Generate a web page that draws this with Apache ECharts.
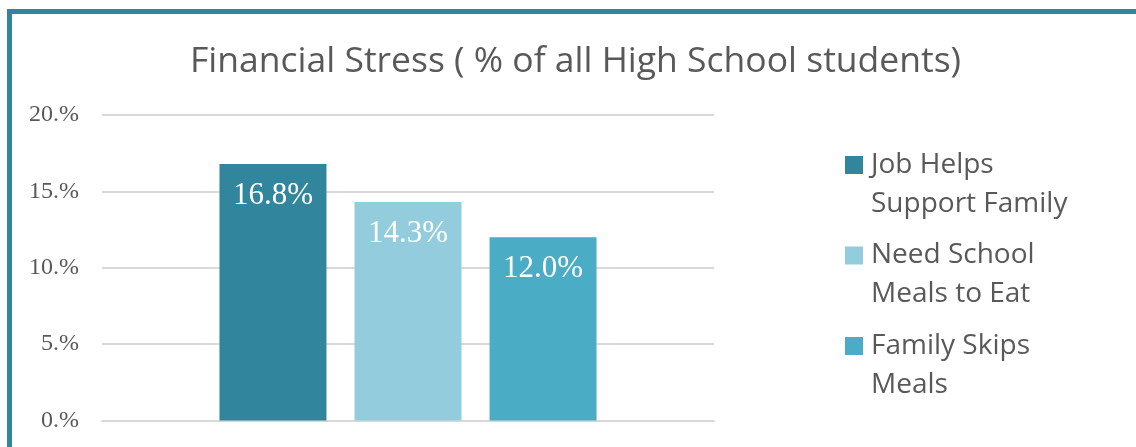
<!DOCTYPE html>
<html>
<head>
<meta charset="utf-8">
<script src="https://cdn.jsdelivr.net/npm/echarts@6/dist/echarts.min.js"></script>
<style>
  html, body { margin: 0; padding: 0; background: #fff; overflow: hidden; }
  #frame {
    position: absolute; left: 7px; top: 9px; width: 1300px; height: 600px;
    border: 5px solid #31859C; box-sizing: border-box; pointer-events: none;
  }
  #FinanceChart { position: absolute; left: 0; top: 0; width: 1136px; height: 447px; }
</style>
</head>
<body>
<div id="frame"></div>
<div id="FinanceChart"></div>
<script>
// chart values
const seriesNames = ['Job Helps Support Family', 'Need School Meals to Eat', 'Family Skips Meals'];
const legendLines = ['Job Helps\nSupport Family', 'Need School\nMeals to Eat', 'Family Skips\nMeals'];
const seriesValues = [16.8, 14.3, 12.0];
const seriesColors = ['#31859C', '#93CDDD', '#4BACC6'];
const categories = [''];
const yTicks = [0, 5, 10, 15, 20];

const FinanceChart = {};

FinanceChart.init = () => {
  let dom = document.getElementById('FinanceChart');
  FinanceChart.chart = echarts.init(dom, null, { renderer: 'canvas' });
};

FinanceChart.set = () => {
  let series = [];
  seriesNames.forEach((name, i) => {
    series.push({
      name: name,
      type: 'bar',
      barWidth: 107,
      barGap: '26.2%',
      itemStyle: { color: seriesColors[i] },
      label: {
        show: true,
        position: 'insideTop',
        distance: 16,
        color: '#fff',
        fontFamily: 'Liberation Serif',
        fontSize: 31,
        formatter: (p) => p.value.toFixed(1) + '%'
      },
      data: [seriesValues[i]]
    });
  });

  let option = {
    animation: false,
    title: {
      text: 'Financial Stress ( % of all High School students)',
      left: 190,
      top: 44,
      padding: 0,
      textStyle: {
        fontFamily: 'Open Sans',
        fontSize: 35.5,
        fontWeight: 'normal',
        color: '#595959'
      }
    },
    legend: {
      orient: 'vertical',
      left: 845,
      top: 106.5,
      padding: 0,
      itemWidth: 18,
      itemHeight: 18,
      itemGap: -26.5,
      icon: 'rect',
      data: seriesNames,
      // leading blank line keeps the swatch level with the first text line
      formatter: (name) => '\n' + legendLines[seriesNames.indexOf(name)],
      textStyle: {
        fontFamily: 'Open Sans',
        fontSize: 28,
        lineHeight: 39,
        padding: [0, 0, 0, 3],
        color: '#595959'
      }
    },
    grid: {
      left: 102,
      right: 422,
      top: 115,
      bottom: 26.5
    },
    xAxis: {
      type: 'category',
      data: categories,
      axisLine: { lineStyle: { color: '#d9d9d9', width: 2 } },
      axisTick: { show: false },
      axisLabel: { show: false }
    },
    yAxis: {
      type: 'value',
      min: yTicks[0],
      max: yTicks[yTicks.length - 1],
      interval: 5,
      axisLine: { show: false },
      axisTick: { show: false },
      splitLine: { lineStyle: { color: '#d9d9d9', width: 2 } },
      axisLabel: {
        margin: 23,
        fontFamily: 'Liberation Serif',
        fontSize: 24,
        color: '#595959',
        formatter: (v) => v + '.%'
      }
    },
    series: series
  };

  FinanceChart.chart.setOption(option);
};

FinanceChart.init();
FinanceChart.set();
</script>
</body>
</html>
